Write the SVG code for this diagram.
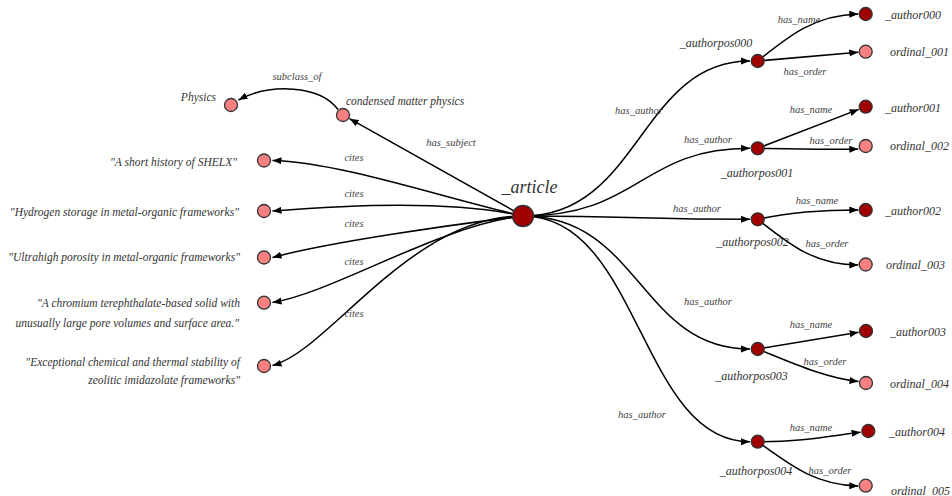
<svg xmlns="http://www.w3.org/2000/svg" width="952" height="496" viewBox="0 0 952 496">
<style>
text{font-family:"Liberation Serif","Times New Roman",serif;font-style:italic;fill:#333}
.el{font-size:10.5px;text-anchor:middle;fill:#444}
.nl{font-size:11.5px}
.nr{font-size:12px}
.end{text-anchor:end}
.mid{text-anchor:middle}
.e{fill:none;stroke:#000;stroke-width:1.5;marker-end:url(#arr)}
.dk{fill:#a00000;stroke:#333;stroke-width:1.3}
.lt{fill:#f88080;stroke:#333;stroke-width:1.3}
</style>
<defs>
<marker id="arr" markerUnits="userSpaceOnUse" markerWidth="10" markerHeight="8" refX="9" refY="3.5" orient="auto" viewBox="0 0 10 7">
<path d="M0,0 L9,3.5 L0,7 Z" fill="#000"/>
</marker>
</defs>
<rect width="952" height="496" fill="#fff"/>
<g id="connectors">
<path class="e" d="M338,109.5 C320,85 270,83 238.5,100"/>
<path class="e" d="M523,216 L349.5,118.7"/>
<path class="e" d="M523,216 C450,200 340,162 272.5,160.5"/>
<path class="e" d="M523,216 C450,200 350,205 272.5,211"/>
<path class="e" d="M523,216 C450,225 330,242 272.5,257.5"/>
<path class="e" d="M523,216 C440,225 335,292 272.5,302.5"/>
<path class="e" d="M523,216 C410,216 330,350 272.5,365.5"/>
<path class="e" d="M523,216 C640,216 640,61 750,61"/>
<path class="e" d="M523,216 C640,216 640,148.3 750,148.3"/>
<path class="e" d="M523,216 C640,216 640,219.3 750,219.3"/>
<path class="e" d="M523,216 C640,216 640,349 750,349"/>
<path class="e" d="M523,216 C640,216 640,441.7 750,441.7"/>
<path class="e" d="M757.7,61 C790,35 815,15 858.3,14"/>
<path class="e" d="M757.7,61 L858.3,52.2"/>
<path class="e" d="M757.7,148.3 L858.7,109.4"/>
<path class="e" d="M757.7,148.3 C790,149 825,150 858.3,149"/>
<path class="e" d="M757.7,219.3 C790,212 820,210 858.3,210"/>
<path class="e" d="M757.7,219.3 C790,245 815,265 858.3,265"/>
<path class="e" d="M757.7,349 L858.6,332.3"/>
<path class="e" d="M757.7,349 C790,362 825,378 858.5,381.5"/>
<path class="e" d="M757.7,441.7 C800,442 830,436 860.6,432.2"/>
<path class="e" d="M757.7,441.7 C790,465 815,485 858.3,486"/>
<text class="el" x="297" y="80">subclass_of</text>
<text class="el" x="451" y="146">has_subject</text>
<text class="el" x="354" y="160.5">cites</text>
<text class="el" x="354" y="196.5">cites</text>
<text class="el" x="354" y="226.5">cites</text>
<text class="el" x="354" y="264.5">cites</text>
<text class="el" x="354" y="316.5">cites</text>
<text class="el" x="639" y="113.5">has_author</text>
<text class="el" x="708" y="142.5">has_author</text>
<text class="el" x="697" y="211.5">has_author</text>
<text class="el" x="708" y="304.5">has_author</text>
<text class="el" x="642" y="417.5">has_author</text>
<text class="el" x="799" y="22.5">has_name</text>
<text class="el" x="811" y="112.5">has_name</text>
<text class="el" x="817" y="203.5">has_name</text>
<text class="el" x="811" y="327.5">has_name</text>
<text class="el" x="811" y="430.5">has_name</text>
<text class="el" x="805" y="74.5">has_order</text>
<text class="el" x="831" y="143.5">has_order</text>
<text class="el" x="827" y="246.5">has_order</text>
<text class="el" x="825" y="364.5">has_order</text>
<text class="el" x="830" y="473.5">has_order</text>
</g>
<g id="n_article"><circle class="dk" cx="523" cy="216" r="10.5" stroke-width="2.5"/><text class="mid" x="529.5" y="193" font-size="18">_article</text></g>
<g id="n_physics"><circle class="lt" cx="231" cy="105" r="6.5"/><text class="nl end" x="216" y="100.5">Physics</text></g>
<g id="n_cmp"><circle class="lt" cx="343" cy="115" r="6.5"/><text class="nl" x="346" y="105">condensed matter physics</text></g>
<g id="n_cite1"><circle class="lt" cx="264" cy="160.5" r="6.5"/><text class="nl end" x="237" y="166">"A short history of SHELX"</text></g>
<g id="n_cite2"><circle class="lt" cx="264" cy="211" r="6.5"/><text class="nl end" x="239" y="215.5">"Hydrogen storage in metal-organic frameworks"</text></g>
<g id="n_cite3"><circle class="lt" cx="264" cy="257.5" r="6.5"/><text class="nl end" x="240" y="260.5">"Ultrahigh porosity in metal-organic frameworks"</text></g>
<g id="n_cite4"><circle class="lt" cx="264" cy="302.7" r="6.5"/><text class="nl end" x="240" y="307">"A chromium terephthalate-based solid with</text><text class="nl end" x="239" y="327">unusually large pore volumes and surface area."</text></g>
<g id="n_cite5"><circle class="lt" cx="264" cy="366" r="6.5"/><text class="nl end" x="240" y="366">"Exceptional chemical and thermal stability of</text><text class="nl end" x="240" y="383.5">zeolitic imidazolate frameworks"</text></g>
<g id="n_ap0"><circle class="dk" cx="757.7" cy="61" r="6.5"/><text class="nr mid" x="716" y="47">_authorpos000</text></g>
<g id="n_a0"><circle class="dk" cx="865.7" cy="14" r="6.5"/><text class="nr" x="885" y="18.5">_author000</text></g>
<g id="n_o1"><circle class="lt" cx="865.7" cy="51.7" r="6.5"/><text class="nr" x="890" y="56">ordinal_001</text></g>
<g id="n_ap1"><circle class="dk" cx="757.7" cy="148.3" r="6.5"/><text class="nr mid" x="757" y="176.5">_authorpos001</text></g>
<g id="n_a1"><circle class="dk" cx="865.7" cy="106.7" r="6.5"/><text class="nr" x="885" y="111.5">_author001</text></g>
<g id="n_o2"><circle class="lt" cx="865.7" cy="146" r="6.5"/><text class="nr" x="890" y="149.5">ordinal_002</text></g>
<g id="n_ap2"><circle class="dk" cx="757.7" cy="219.3" r="6.5"/><text class="nr mid" x="752.5" y="246">_authorpos002</text></g>
<g id="n_a2"><circle class="dk" cx="865.7" cy="210" r="6.5"/><text class="nr" x="885" y="214.5">_author002</text></g>
<g id="n_o3"><circle class="lt" cx="865.7" cy="264.5" r="6.5"/><text class="nr" x="886" y="268.5">ordinal_003</text></g>
<g id="n_ap3"><circle class="dk" cx="757.7" cy="349" r="6.5"/><text class="nr mid" x="751.5" y="379.5">_authorpos003</text></g>
<g id="n_a3"><circle class="dk" cx="866" cy="331" r="6.5"/><text class="nr" x="890" y="335.5">_author003</text></g>
<g id="n_o4"><circle class="lt" cx="866" cy="383" r="6.5"/><text class="nr" x="890" y="388">ordinal_004</text></g>
<g id="n_ap4"><circle class="dk" cx="757.7" cy="441.7" r="6.5"/><text class="nr mid" x="756" y="474.5">_authorpos004</text></g>
<g id="n_a4"><circle class="dk" cx="868.3" cy="431" r="6.5"/><text class="nr" x="889" y="435.5">_author004</text></g>
<g id="n_o5"><circle class="lt" cx="865.7" cy="485.7" r="6.5"/><text class="nr" x="891" y="494.5">ordinal_005</text></g>
</svg>
